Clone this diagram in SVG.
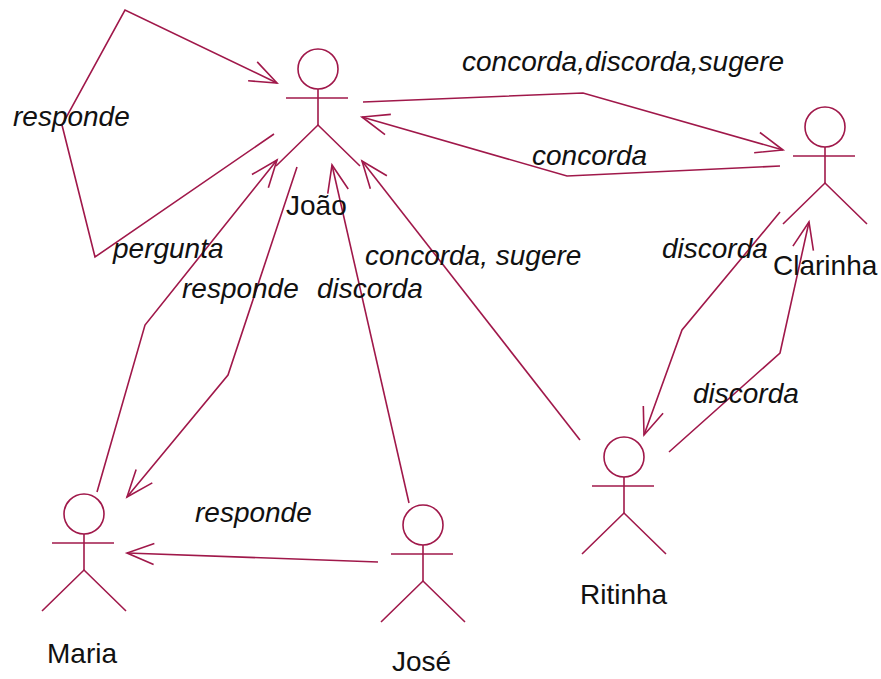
<svg xmlns="http://www.w3.org/2000/svg" xmlns:xlink="http://www.w3.org/1999/xlink" width="881" height="679" viewBox="0 0 881 679">
<style>
.ln{fill:none;stroke:#a0184a;stroke-width:1.6;stroke-linejoin:miter}
.lbl{font-family:"Liberation Sans",Arial,sans-serif;font-size:28px;font-style:italic;fill:#111}
.nm{font-family:"Liberation Sans",Arial,sans-serif;font-size:28px;fill:#111}
</style>
<defs>
<marker id="arr" markerUnits="userSpaceOnUse" markerWidth="40" markerHeight="30" refX="0" refY="0" viewBox="-30 -15 32 30" orient="auto" overflow="visible">
<path d="M -27 -10.5 L 0 0 L -27 10.5" fill="none" stroke="#a0184a" stroke-width="1.6"/>
</marker>
<g id="actor" class="ln">
<circle cx="0" cy="0" r="20"/>
<line x1="0" y1="20" x2="0" y2="56"/>
<line x1="-32" y1="29" x2="30" y2="29"/>
<polyline points="-42,97 0,56 42,97"/>
</g>
</defs>
<rect width="881" height="679" fill="#fff"/>
<g id="connectors">
<polyline class="ln" points="274,134 95,257 62,125 125,10 277,83" marker-end="url(#arr)"/>
<polyline class="ln" points="363,102 583,93 783,150" marker-end="url(#arr)"/>
<polyline class="ln" points="780,166 567,176 362,117" marker-end="url(#arr)"/>
<polyline class="ln" points="97,492 145,325 277,160" marker-end="url(#arr)"/>
<polyline class="ln" points="297,167 228,375 127,497" marker-end="url(#arr)"/>
<polyline class="ln" points="409,503 332,165" marker-end="url(#arr)"/>
<polyline class="ln" points="580,440 362,161" marker-end="url(#arr)"/>
<polyline class="ln" points="780,212 682,330 644,435" marker-end="url(#arr)"/>
<polyline class="ln" points="669,452 780,353 809,222" marker-end="url(#arr)"/>
<polyline class="ln" points="378,562 127,553" marker-end="url(#arr)"/>
<text class="lbl" x="13" y="126">responde</text>
<text class="lbl" x="113" y="258">pergunta</text>
<text class="lbl" x="182" y="298">responde</text>
<text class="lbl" x="317" y="298">discorda</text>
<text class="lbl" x="365" y="265">concorda, sugere</text>
<text class="lbl" x="462" y="71">concorda,discorda,sugere</text>
<text class="lbl" x="532" y="165">concorda</text>
<text class="lbl" x="662" y="258">discorda</text>
<text class="lbl" x="693" y="403">discorda</text>
<text class="lbl" x="195" y="522">responde</text>
</g>
<g id="joao"><use xlink:href="#actor" href="#actor" x="318" y="69"/><text class="nm" x="286" y="215">João</text></g>
<g id="clarinha"><use xlink:href="#actor" href="#actor" x="825" y="127"/><text class="nm" x="773" y="275">Clarinha</text></g>
<g id="maria"><use xlink:href="#actor" href="#actor" x="84" y="514"/><text class="nm" x="47" y="663">Maria</text></g>
<g id="jose"><use xlink:href="#actor" href="#actor" x="423" y="525"/><text class="nm" x="392" y="671">José</text></g>
<g id="ritinha"><use xlink:href="#actor" href="#actor" x="624" y="457"/><text class="nm" x="580" y="604">Ritinha</text></g>
</svg>
